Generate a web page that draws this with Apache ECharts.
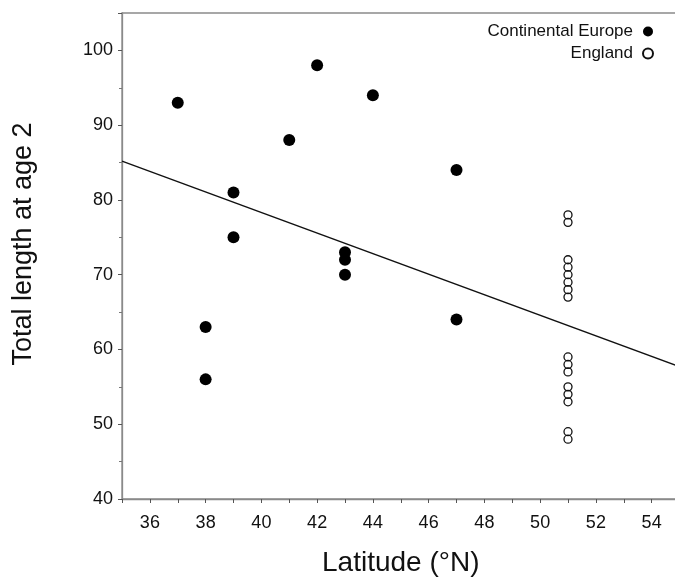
<!DOCTYPE html>
<html>
<head>
<meta charset="utf-8">
<script src="https://cdn.jsdelivr.net/npm/echarts@6/dist/echarts.min.js"></script>
<style>html,body{margin:0;padding:0;background:#fff}#c{width:675px;height:578px}</style>
</head>
<body>
<div id="c"></div>
<script>
// Continental Europe (latitude, length at age 2)
var contLat = [37, 42, 44, 41, 47, 39, 39, 43, 43, 43, 38, 38, 47];
var contLen = [93, 98, 94, 88, 84, 81, 75, 73, 72, 70, 63, 56, 64];
// England (all at 51 °N)
var engLat = [51, 51, 51, 51, 51, 51, 51, 51, 51, 51, 51, 51, 51, 51, 51, 51];
var engLen = [78, 77, 72, 71, 70, 69, 68, 67, 59, 58, 57, 55, 54, 53, 49, 48];
// Fitted regression line end points
var fitLat = [35, 55];
var fitLen = [85.2, 57.7];
var xTicks = [36, 38, 40, 42, 44, 46, 48, 50, 52, 54];
var yTicks = [40, 50, 60, 70, 80, 90, 100];

function pairs(a, b) { return a.map(function (v, i) { return [v, b[i]]; }); }

var font = '"Liberation Sans", Arial, sans-serif';
var axisGray = '#8a8a8a';
var chart = echarts.init(document.getElementById('c'), null, { renderer: 'canvas' });
chart.setOption({
  animation: false,
  backgroundColor: '#fff',
  grid: {
    left: 122, width: 557.5, top: 13, bottom: 79, outerBoundsMode: 'none', containLabel: false,
    show: true, borderColor: axisGray, borderWidth: 1.3, backgroundColor: 'transparent'
  },
  legend: {
    orient: 'vertical', right: 16, top: 18, align: 'right', itemGap: 5,
    itemWidth: 10, itemHeight: 10,
    textStyle: { fontFamily: font, fontSize: 17, color: '#111', padding: [0, 5, 0, 0] },
    data: ['Continental Europe', 'England']
  },
  xAxis: {
    type: 'value', min: 35, max: 55, interval: 1,
    name: 'Latitude (°N)', nameLocation: 'middle', nameGap: 50,
    nameTextStyle: { fontFamily: font, fontSize: 28, color: '#111' },
    axisLine: { show: true, lineStyle: { color: axisGray, width: 1.3 } },
    axisTick: { show: true, length: 4, lineStyle: { color: '#555' } },
    minorTick: { show: false },
    splitLine: { show: false },
    axisLabel: {
      fontFamily: font, fontSize: 18, color: '#111', margin: 15,
      formatter: function (v) { return xTicks.indexOf(v) >= 0 ? String(v) : ''; }
    }
  },
  yAxis: {
    type: 'value', min: 40, max: 105, interval: 10,
    name: 'Total length at age 2', nameLocation: 'middle', nameGap: 85,
    nameTextStyle: { fontFamily: font, fontSize: 27, color: '#111', padding: [0, 0, 0, 24] },
    axisLine: { show: true, lineStyle: { color: axisGray, width: 1.3 } },
    axisTick: { show: true, length: 4, lineStyle: { color: '#555' } },
    minorTick: { show: true, splitNumber: 2, length: 3, lineStyle: { color: '#777' } },
    splitLine: { show: false },
    axisLabel: {
      fontFamily: font, fontSize: 18, color: '#111', margin: 9,
      formatter: function (v) { return yTicks.indexOf(v) >= 0 ? String(v) : ''; }
    }
  },
  series: [
    {
      name: 'fit', type: 'line', data: pairs(fitLat, fitLen), symbol: 'none',
      lineStyle: { color: '#111', width: 1.4 }, silent: true, z: 1
    },
    {
      name: 'Continental Europe', type: 'scatter', data: pairs(contLat, contLen),
      symbol: 'circle', symbolSize: 12, itemStyle: { color: '#000', opacity: 1 }, z: 3
    },
    {
      name: 'England', type: 'scatter', data: pairs(engLat, engLen),
      symbol: 'circle', symbolSize: 8,
      itemStyle: { color: 'rgba(255,255,255,0)', borderColor: '#111', borderWidth: 1.3, opacity: 1 }, z: 3
    }
  ]
});
</script>
</body>
</html>
